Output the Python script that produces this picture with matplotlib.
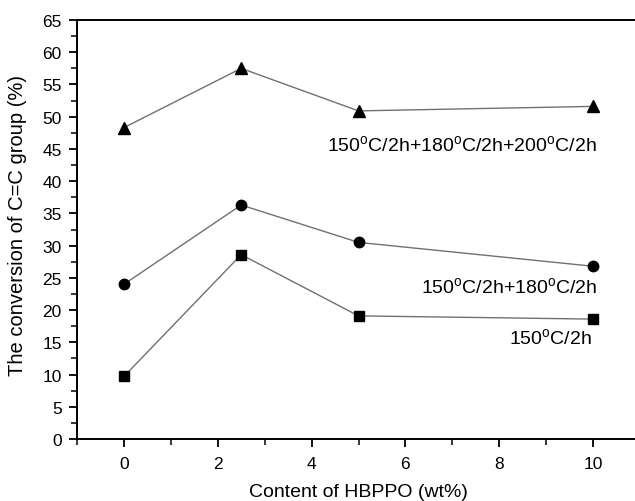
import matplotlib.pyplot as plt
from matplotlib.ticker import MultipleLocator

plt.rcParams['font.family'] = ['Liberation Sans', 'DejaVu Sans']
plt.rcParams['mathtext.fontset'] = 'custom'
plt.rcParams['mathtext.rm'] = 'Liberation Sans'

content = [0, 2.5, 5, 10]
conv_150 = [9.7, 28.6, 19.1, 18.6]
conv_150_180 = [24.0, 36.3, 30.5, 26.8]
conv_150_180_200 = [48.3, 57.5, 50.9, 51.6]

deg = r"$^{\mathrm{o}}$"
lab1 = "150" + deg + "C/2h"
lab2 = lab1 + "+180" + deg + "C/2h"
lab3 = lab2 + "+200" + deg + "C/2h"

fig = plt.figure(figsize=(6.35, 5.02), dpi=100)
ax = fig.add_axes([77/635, 62/502, 563/635, 419/502])

line_kw = dict(color='#707070', lw=1.0, markeredgecolor='black', markerfacecolor='black')
ax.plot(content, conv_150, marker='s', ms=6.5, **line_kw)
ax.plot(content, conv_150_180, marker='o', ms=7.5, **line_kw)
ax.plot(content, conv_150_180_200, marker='^', ms=8.5, **line_kw)

ax.text(7.21, 45.7, lab3, fontsize=14, ha='center', va='center')
ax.text(10.09, 23.6, lab2, fontsize=14, ha='right', va='center')
ax.text(9.98, 15.8, lab1, fontsize=14, ha='right', va='center')

ax.set_xlim(-1, 11)
ax.set_ylim(0, 65)
ax.xaxis.set_major_locator(MultipleLocator(2))
ax.xaxis.set_minor_locator(MultipleLocator(1))
ax.yaxis.set_major_locator(MultipleLocator(5))
ax.yaxis.set_minor_locator(MultipleLocator(2.5))
ax.tick_params(which='major', direction='out', length=6, width=1.3, labelsize=12.5)
ax.tick_params(axis='x', which='major', pad=6)
ax.tick_params(axis='y', which='major', pad=5)
ax.tick_params(which='minor', direction='out', length=4, width=1.1)
ax.spines['right'].set_visible(False)
for s in ['left', 'bottom', 'top']:
    ax.spines[s].set_linewidth(1.4)

ax.set_xlabel("Content of HBPPO (wt%)", fontsize=14, labelpad=9)
ax.set_ylabel("The conversion of C=C group (%)", fontsize=14.5)
ax.yaxis.set_label_coords(-0.088, 0.513)

fig.savefig("out.png", dpi=100)
